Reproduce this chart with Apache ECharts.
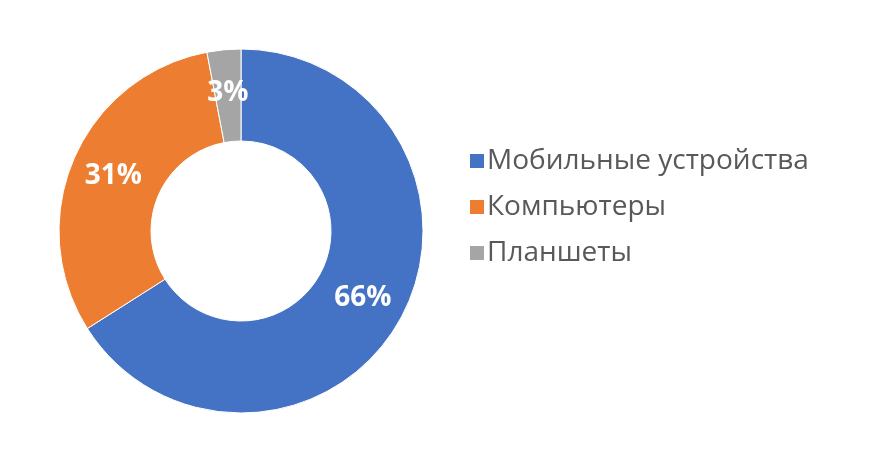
<!DOCTYPE html>
<html><head><meta charset="utf-8">
<script src="https://cdn.jsdelivr.net/npm/echarts@6/dist/echarts.min.js"></script>
<style>html,body{margin:0;padding:0;background:#fff}#c{width:875px;height:468px}</style>
</head><body><div id="c"></div>
<script>
const categories = ["Мобильные устройства", "Компьютеры", "Планшеты"];
const values = [66, 31, 3];
const colors = ["#4472C4", "#ED7D31", "#A5A5A5"];

const chart = echarts.init(document.getElementById('c'));
chart.setOption({
  animation: false,
  color: colors,
  legend: {
    orient: 'vertical',
    left: 463,
    top: 142,
    itemWidth: 16,
    itemHeight: 16,
    itemGap: 18,
    icon: 'rect',
    textStyle: {fontFamily: 'Open Sans', fontSize: 28, color: '#595959', padding: [0,0,0,-3]},
    data: categories
  },
  series: [{
    type: 'pie',
    center: [241, 231],
    radius: [90, 182],
    startAngle: 90,
    clockwise: true,
    itemStyle: {borderColor: '#fff', borderWidth: 1},
    label: {
      position: 'inside',
      formatter: '{c}%',
      color: '#fff',
      fontFamily: 'Open Sans',
      fontWeight: 'bold',
      fontSize: 28,
      padding: [4, 0, 0, 0]
    },
    labelLine: {show: false},
    data: categories.map((n, i) => ({name: n, value: values[i]}))
  }]
});
</script></body></html>
